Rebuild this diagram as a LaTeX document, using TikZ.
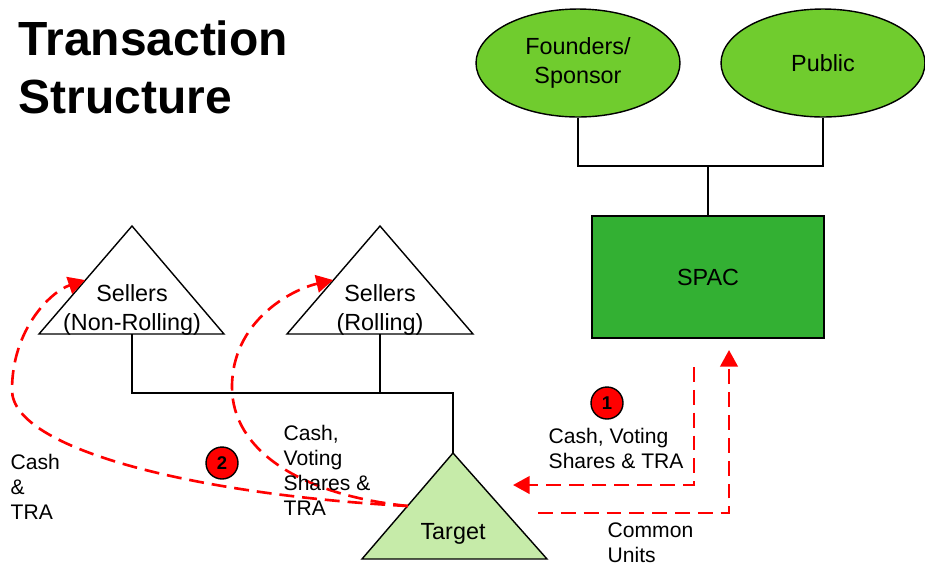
\documentclass[tikz,border=0pt]{standalone}
\usepackage{fontspec}
\setmainfont{Liberation Sans}
\usepackage{xcolor}
\usetikzlibrary{shapes,arrows.meta,positioning}
\definecolor{leafgreen}{RGB}{112,204,46}
\definecolor{spacgreen}{RGB}{51,176,51}
\definecolor{targetgreen}{RGB}{198,235,169}
\definecolor{flowred}{RGB}{255,0,0}

\begin{document}
\begin{tikzpicture}[x=0.02cm, y=-0.02cm, line width=0.8pt,
		holder/.style={ellipse, draw, fill=leafgreen, minimum width=4.08cm, minimum height=2.16cm, align=center, font=\fontsize{13.3}{16.4}\selectfont},
		tri/.style={draw, line width=0.8pt},
		trilabel/.style={align=center, inner sep=0, font=\fontsize{13.3}{16.4}\selectfont},
		flow/.style={draw=flowred, line width=1.5pt, dash pattern=on 8.5pt off 4.5pt, -{Triangle[length=9.5pt, width=10pt, fill=flowred]}},
		flowlabel/.style={align=left, inner sep=0, anchor=west, font=\fontsize{12}{14.2}\selectfont},
		stepmark/.style={circle, draw, fill=flowred, inner sep=0, minimum size=0.64cm, font=\bfseries\fontsize{10.5}{12}\selectfont}]
				\useasboundingbox (0,0) rectangle (925,566);
				% title
				\node[align=left, inner sep=0, anchor=base west, font=\bfseries\fontsize{27.3}{33}\selectfont] (title) at (18,55) {Transaction};
				\node[align=left, inner sep=0, anchor=base west, font=\bfseries\fontsize{27.3}{33}\selectfont] (title2) at (18,113) {Structure};
				% SPAC side
				\node[holder] (founders) at (578,63) {Founders/\\Sponsor};
				\node[holder] (public) at (823,63) {Public};
				\node[rectangle, draw, fill=spacgreen, minimum width=4.64cm, minimum height=2.44cm, font=\fontsize{13.3}{16.4}\selectfont] (spac) at (708,277) {SPAC};
				\coordinate (topjoin) at (708,166);
				\draw (founders.south) |- (topjoin) -| (public.south);
				\draw (topjoin) -- (spac.north);
				% sellers and target
				\draw[tri, fill=white] (39,334) -- (132,226) -- (224,334) -- cycle;
				\draw[tri, fill=white] (287,334) -- (380,226) -- (473,334) -- cycle;
				\draw[tri, fill=targetgreen] (362,559) -- (453,453) -- (547,559) -- cycle;
				\coordinate (nonrollbase) at (132,334);
				\coordinate (rollbase) at (380,334);
				\coordinate (targettop) at (453,453);
				\coordinate (sellerjoin) at (453,393);
				\node[trilabel] (nonroll) at (132,310) {Sellers\\(Non-Rolling)};
				\node[trilabel] (roll) at (380,310) {Sellers\\(Rolling)};
				\node[trilabel] (target) at (453,534) {Target};
				\draw (nonrollbase) |- (sellerjoin) -- (targettop);
				\draw (rollbase) -- (rollbase |- sellerjoin);
				% flows 1
				\coordinate (payout) at (694,367);
				\coordinate (payin) at (513,485);
				\coordinate (unitsout) at (538,513);
				\coordinate (unitsin) at (729,350);
				\draw[flow] (payout) |- (payin);
				\draw[flow] (unitsout) -| (unitsin);
				\node[stepmark] (step1) at (607,403) {1};
				\node[flowlabel] (paylabel) at (548,448) {Cash, Voting\\Shares \& TRA};
				\node[flowlabel] (unitslabel) at (607,543) {Common\\Units};
				% flows 2
				\coordinate (targetside) at (408,506);
				\coordinate (nonrollin) at (85,280);
				\coordinate (rollin) at (333,280);
				\draw[flow] (targetside) .. controls (200,495) and (12,450) .. (12,390) .. controls (12,330) and (50,292) .. (nonrollin);
				\draw[flow] (targetside) .. controls (300,495) and (232,450) .. (232,387) .. controls (232,322) and (290,290) .. (rollin);
				\node[stepmark] (step2) at (222,463) {2};
				\node[flowlabel] (cashlabel) at (10,487) {Cash\\\&\\TRA};
				\node[flowlabel] (sharelabel) at (283,470) {Cash,\\Voting\\Shares \&\\TRA};
			\end{tikzpicture}
\end{document}
